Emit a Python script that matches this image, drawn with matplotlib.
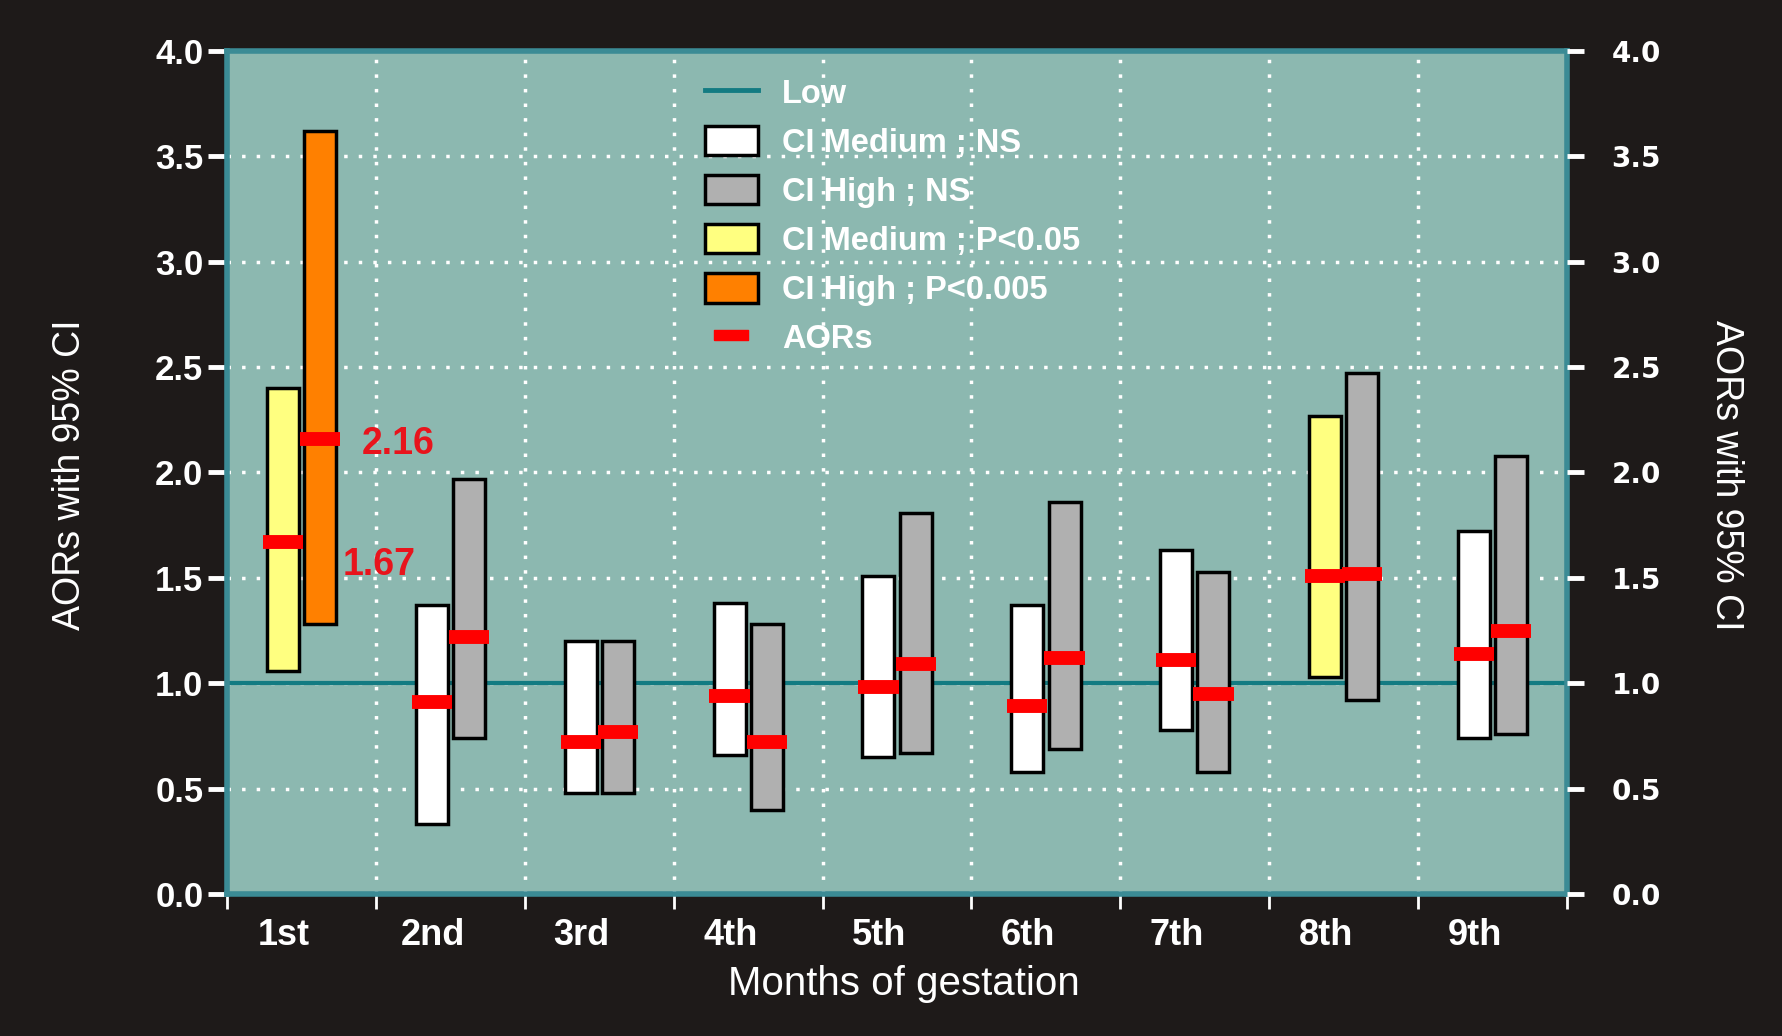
import matplotlib
matplotlib.use("Agg")
import matplotlib.pyplot as plt
from matplotlib.lines import Line2D
from matplotlib.patches import Patch
import numpy as np

# AORs with 95% CI by month of gestation, medium vs high exposure
months = ["1st", "2nd", "3rd", "4th", "5th", "6th", "7th", "8th", "9th"]

med_lo = [1.06, 0.33, 0.48, 0.66, 0.65, 0.58, 0.78, 1.03, 0.74]
med_hi = [2.40, 1.37, 1.20, 1.38, 1.51, 1.37, 1.63, 2.27, 1.72]
med_aor = [1.67, 0.91, 0.72, 0.94, 0.98, 0.89, 1.11, 1.51, 1.14]
med_sig = ["p05", "ns", "ns", "ns", "ns", "ns", "ns", "p05", "ns"]

high_lo = [1.28, 0.74, 0.48, 0.40, 0.67, 0.69, 0.58, 0.92, 0.76]
high_hi = [3.62, 1.97, 1.20, 1.28, 1.81, 1.86, 1.53, 2.47, 2.08]
high_aor = [2.16, 1.22, 0.77, 0.72, 1.09, 1.12, 0.95, 1.52, 1.25]
high_sig = ["p005", "ns", "ns", "ns", "ns", "ns", "ns", "ns", "ns"]

yticks = [0.0, 0.5, 1.0, 1.5, 2.0, 2.5, 3.0, 3.5, 4.0]

med_colors = {"ns": "white", "p05": "#ffff80"}
high_colors = {"ns": "#b0b0b0", "p005": "#ff8000"}

BG = "#1e1a19"
PANEL = "#8cb8b0"
TEAL = "#3b8b95"
LINE = "#137b82"
RED = "#ff0000"
arial = ["Liberation Sans", "DejaVu Sans"]

fig = plt.figure(figsize=(17.83, 10.36), dpi=100, facecolor=BG)
ax = fig.add_axes([0.1273, 0.1371, 0.7516, 0.8137])
ax.set_facecolor(PANEL)

x = np.arange(len(months)) + 0.5
off = 0.125
w = 0.215

med_lo = np.array(med_lo)
med_hi = np.array(med_hi)
high_lo = np.array(high_lo)
high_hi = np.array(high_hi)

ax.axhline(1.0, color=LINE, lw=3, zorder=2)

ax.bar(x - off, med_hi - med_lo, bottom=med_lo, width=w,
       color=[med_colors[s] for s in med_sig], edgecolor="black", linewidth=2.5, zorder=3)
ax.bar(x + off, high_hi - high_lo, bottom=high_lo, width=w,
       color=[high_colors[s] for s in high_sig], edgecolor="black", linewidth=2.5, zorder=3)

ax.hlines(med_aor, x - off - 0.135, x - off + 0.135, color=RED, lw=10, zorder=4)
ax.hlines(high_aor, x + off - 0.135, x + off + 0.135, color=RED, lw=10, zorder=4)

ax.text(x[0] + off + 0.28, high_aor[0] - 0.025, f"{high_aor[0]:.2f}", color="#e8141c",
        fontsize=27, fontweight="bold", family=arial, va="center", ha="left", zorder=5)
ax.text(x[0] + off + 0.15, med_aor[0] - 0.11, f"{med_aor[0]:.2f}", color="#e8141c",
        fontsize=27, fontweight="bold", family=arial, va="center", ha="left", zorder=5)

ax.set_xlim(0, 9)
ax.set_ylim(0, 4)

# dotted grid
for gx in range(1, 9):
    ax.axvline(gx, color="white", lw=2.5, ls=(0, (1, 3.2)), zorder=1)
for gy in yticks[1:-1]:
    ax.axhline(gy, color="white", lw=2.5, ls=(0, (1, 3.2)), zorder=1)

for sp in ax.spines.values():
    sp.set_color(TEAL)
    sp.set_linewidth(4)

ax.set_yticks(yticks)
ax.set_yticklabels([f"{v:.1f}" for v in yticks], family=arial,
                   fontsize=25, fontweight="bold", color="white")
ax.tick_params(axis="y", length=14, width=3.5, color="white", pad=3)

ax.set_xticks(range(10))
ax.set_xticklabels([])
ax.tick_params(axis="x", which="major", length=11, width=2, color="white")
ax.set_xticks(x - 0.12, minor=True)
ax.set_xticklabels(months, minor=True, family=arial, fontsize=26,
                   fontweight="bold", color="white")
ax.tick_params(axis="x", which="minor", length=0, pad=17)

ax2 = ax.twinx()
ax2.set_ylim(0, 4)
ax2.set_yticks(yticks)
ax2.set_yticklabels([f"{v:.1f}" for v in yticks], family="DejaVu Sans",
                    fontsize=20, fontweight="bold", color="white")
ax2.tick_params(axis="y", length=12, width=3.5, color="white", pad=20)
for sp in ax2.spines.values():
    sp.set_visible(False)

fig.text(0.0393, 0.5415, "AORs with 95% CI", rotation=90, ha="center", va="center",
         color="white", fontsize=27, family=arial)
fig.text(0.968, 0.5415, "AORs with 95% CI", rotation=270, ha="center", va="center",
         color="white", fontsize=27, family=arial)
fig.text(0.507, 0.050, "Months of gestation", ha="center", va="center",
         color="white", fontsize=29, family=arial)

aor_mark = [(-1.6, -0.45), (1.6, -0.45), (1.6, 0.45), (-1.6, 0.45), (-1.6, -0.45)]
handles = [
    Line2D([], [], color=LINE, lw=3.5),
    Patch(facecolor="white", edgecolor="black", linewidth=2.5),
    Patch(facecolor="#b0b0b0", edgecolor="black", linewidth=2.5),
    Patch(facecolor="#ffff80", edgecolor="black", linewidth=2.5),
    Patch(facecolor="#ff8000", edgecolor="black", linewidth=2.5),
    Line2D([], [], ls="none", marker=aor_mark, markersize=24,
           markerfacecolor=RED, markeredgecolor=RED),
]
labels = ["Low", "CI Medium ; NS", "CI High ; NS", "CI Medium ; P<0.05",
          "CI High ; P<0.005", "AORs"]
leg = ax.legend(handles, labels, loc="upper left", bbox_to_anchor=(0.335, 1.004),
                frameon=False, handlelength=1.6, handleheight=1.0, labelspacing=0.5,
                handletextpad=0.75, prop={"family": arial, "weight": "bold", "size": 23.5})
for t in leg.get_texts():
    t.set_color("white")
leg.set_zorder(6)

fig.savefig("out.png", dpi=100, facecolor=BG)
